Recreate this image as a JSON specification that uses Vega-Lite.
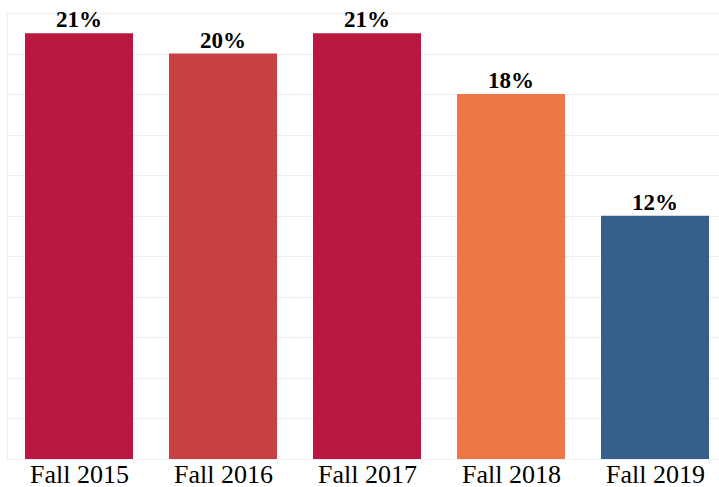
{
  "$schema": "https://vega.github.io/schema/vega-lite/v6.json",
  "width": 720,
  "height": 446,
  "autosize": "none",
  "padding": {"left": 7, "top": 13, "right": 0, "bottom": 28},
  "background": "white",
  "config": {"view": {"stroke": null}},
  "data": {
    "values": [
      {"term": "Fall 2015", "pct": 21, "label": "21%", "color": "#B8173F"},
      {"term": "Fall 2016", "pct": 20, "label": "20%", "color": "#C94042"},
      {"term": "Fall 2017", "pct": 21, "label": "21%", "color": "#B8173F"},
      {"term": "Fall 2018", "pct": 18, "label": "18%", "color": "#EE7748"},
      {"term": "Fall 2019", "pct": 12, "label": "12%", "color": "#35608C"}
    ]
  },
  "encoding": {
    "x": {
      "field": "term",
      "type": "nominal",
      "sort": null,
      "scale": {"paddingInner": 0.25, "paddingOuter": 0.125},
      "axis": {
        "title": null,
        "labelAngle": 0,
        "labelFont": "Liberation Serif",
        "labelFontSize": 26,
        "labelColor": "#000000",
        "labelBaseline": "alphabetic",
        "labelPadding": 19,
        "tickBand": "extent",
        "tickSize": 4,
        "tickColor": "#eeeeee",
        "domain": false,
        "grid": false
      }
    },
    "y": {
      "field": "pct",
      "type": "quantitative",
      "scale": {"domain": [0, 22], "nice": false},
      "axis": {
        "title": null,
        "labels": false,
        "ticks": false,
        "domain": true,
        "domainColor": "#eeeeee",
        "values": [0, 2, 4, 6, 8, 10, 12, 14, 16, 18, 20, 22],
        "grid": true,
        "gridColor": "#eeeeee",
        "gridWidth": 1
      }
    }
  },
  "layer": [
    {
      "mark": {"type": "bar"},
      "encoding": {
        "color": {"field": "color", "type": "nominal", "scale": null}
      }
    },
    {
      "mark": {
        "type": "text",
        "font": "Liberation Serif",
        "fontWeight": "bold",
        "fontSize": 23,
        "baseline": "alphabetic",
        "dy": -6,
        "color": "#000000"
      },
      "encoding": {
        "text": {"field": "label"}
      }
    }
  ]
}
